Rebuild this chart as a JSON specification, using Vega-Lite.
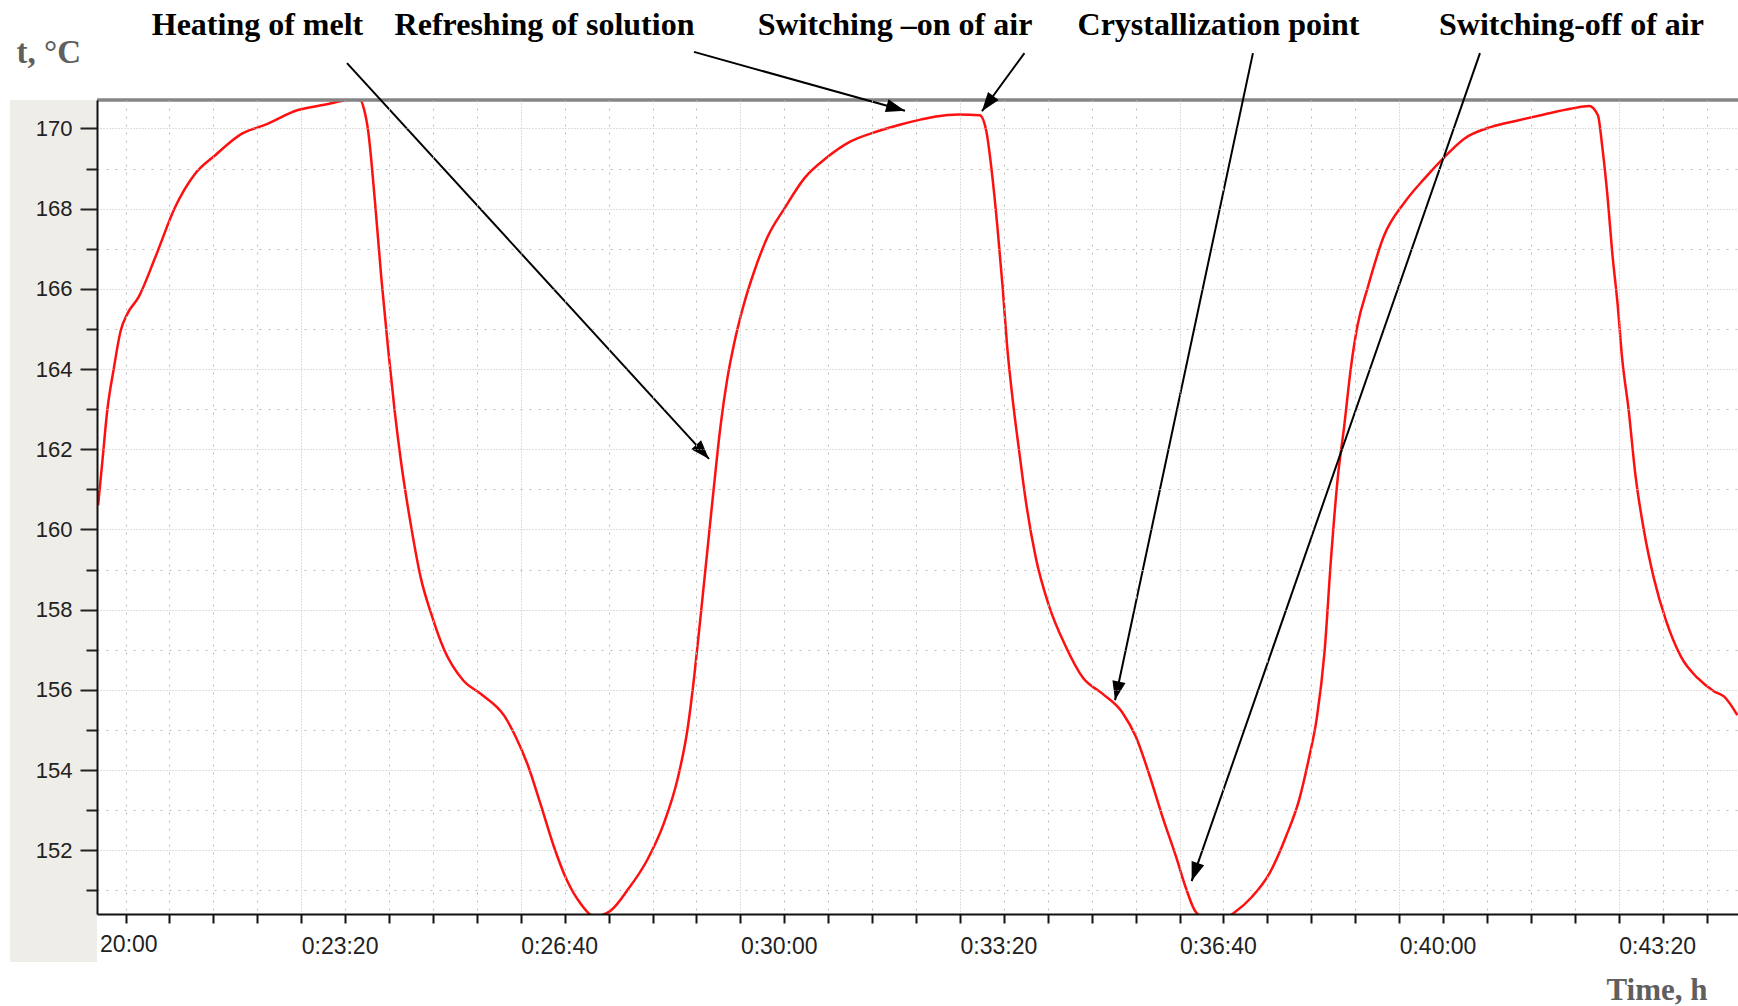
{
  "$schema": "https://vega.github.io/schema/vega-lite/v6.json",
  "width": 1641,
  "height": 814,
  "autosize": {"type": "none"},
  "padding": {"left": 97, "top": 100, "right": 0, "bottom": 92},
  "background": "white",
  "config": {"view": {"stroke": null}},
  "datasets": {
    "curve": [
      {"t": 1215, "v": 160.6}, {"t": 1218.8, "v": 161.67}, {"t": 1223.4, "v": 162.98}, {"t": 1229.4, "v": 164.03},
      {"t": 1235.5, "v": 164.95}, {"t": 1241.5, "v": 165.37}, {"t": 1252, "v": 165.8}, {"t": 1267, "v": 166.78},
      {"t": 1285, "v": 168.03}, {"t": 1303, "v": 168.86}, {"t": 1322, "v": 169.34}, {"t": 1346, "v": 169.87},
      {"t": 1367, "v": 170.09}, {"t": 1397, "v": 170.46}, {"t": 1421, "v": 170.59}, {"t": 1448, "v": 170.72},
      {"t": 1454, "v": 170.7}, {"t": 1457, "v": 170.5}, {"t": 1461, "v": 169.93}, {"t": 1467, "v": 168.23},
      {"t": 1473, "v": 166.26}, {"t": 1479, "v": 164.55}, {"t": 1485, "v": 162.98}, {"t": 1491, "v": 161.67},
      {"t": 1500, "v": 160.09}, {"t": 1509, "v": 158.78}, {"t": 1518, "v": 157.93}, {"t": 1530, "v": 157.01},
      {"t": 1548, "v": 156.22}, {"t": 1564, "v": 155.89}, {"t": 1585, "v": 155.35}, {"t": 1595, "v": 154.85},
      {"t": 1606, "v": 154.15}, {"t": 1618, "v": 153.15}, {"t": 1630, "v": 152.1}, {"t": 1642, "v": 151.25},
      {"t": 1655, "v": 150.65}, {"t": 1667, "v": 150.35}, {"t": 1682, "v": 150.5}, {"t": 1697, "v": 151.0},
      {"t": 1715, "v": 151.75}, {"t": 1730, "v": 152.65}, {"t": 1743, "v": 153.8}, {"t": 1752, "v": 155.05},
      {"t": 1758, "v": 156.35}, {"t": 1764, "v": 157.9}, {"t": 1770, "v": 159.5}, {"t": 1776, "v": 161.1},
      {"t": 1782, "v": 162.6}, {"t": 1788, "v": 163.75}, {"t": 1794, "v": 164.6}, {"t": 1803, "v": 165.6},
      {"t": 1812, "v": 166.39}, {"t": 1825, "v": 167.31}, {"t": 1840, "v": 168.0}, {"t": 1858, "v": 168.75},
      {"t": 1879, "v": 169.28}, {"t": 1900, "v": 169.67}, {"t": 1925, "v": 169.93}, {"t": 1946, "v": 170.1},
      {"t": 1964, "v": 170.22}, {"t": 1978, "v": 170.3}, {"t": 1999, "v": 170.35}, {"t": 2018, "v": 170.33},
      {"t": 2024, "v": 169.93}, {"t": 2028, "v": 169.15}, {"t": 2034, "v": 167.57}, {"t": 2039, "v": 165.99},
      {"t": 2043, "v": 164.55}, {"t": 2048, "v": 163.24}, {"t": 2054, "v": 161.93}, {"t": 2060, "v": 160.7},
      {"t": 2069, "v": 159.3}, {"t": 2081, "v": 158.1}, {"t": 2096, "v": 157.1}, {"t": 2112, "v": 156.3},
      {"t": 2130, "v": 155.9}, {"t": 2148, "v": 155.43}, {"t": 2160, "v": 154.84}, {"t": 2172, "v": 153.92},
      {"t": 2184, "v": 152.87}, {"t": 2197, "v": 151.82}, {"t": 2206, "v": 151.04}, {"t": 2215, "v": 150.45},
      {"t": 2232, "v": 150.2}, {"t": 2250, "v": 150.45}, {"t": 2266, "v": 150.84}, {"t": 2282, "v": 151.43},
      {"t": 2297, "v": 152.35}, {"t": 2309, "v": 153.27}, {"t": 2318, "v": 154.32}, {"t": 2325, "v": 155.3},
      {"t": 2332, "v": 156.94}, {"t": 2338, "v": 159.3}, {"t": 2344, "v": 161.27}, {"t": 2350, "v": 162.59},
      {"t": 2356, "v": 164.03}, {"t": 2362, "v": 165.08}, {"t": 2371, "v": 166.0}, {"t": 2386, "v": 167.31},
      {"t": 2405, "v": 168.16}, {"t": 2423, "v": 168.75}, {"t": 2441, "v": 169.28}, {"t": 2459, "v": 169.74},
      {"t": 2484, "v": 170.04}, {"t": 2508, "v": 170.2}, {"t": 2532, "v": 170.35}, {"t": 2556, "v": 170.49},
      {"t": 2573, "v": 170.56}, {"t": 2581, "v": 170.33}, {"t": 2585, "v": 169.54}, {"t": 2590, "v": 168.23},
      {"t": 2594, "v": 166.92}, {"t": 2599, "v": 165.6}, {"t": 2603, "v": 164.29}, {"t": 2609, "v": 162.98},
      {"t": 2615, "v": 161.4}, {"t": 2623, "v": 159.96}, {"t": 2632, "v": 158.78}, {"t": 2643, "v": 157.73},
      {"t": 2657, "v": 156.81}, {"t": 2672, "v": 156.29}, {"t": 2687, "v": 155.96}, {"t": 2696, "v": 155.83},
      {"t": 2708, "v": 155.37}
    ],
    "arrows": [
      {"name": "heating", "t": 1441.7, "v": 171.63, "t2": 1771.4, "v2": 161.76},
      {"name": "refresh", "t": 1757.7, "v": 171.91, "t2": 1949.9, "v2": 170.44},
      {"name": "on", "t": 2058.7, "v": 171.88, "t2": 2020.0, "v2": 170.43},
      {"name": "cryst", "t": 2266.8, "v": 171.88, "t2": 2141.2, "v2": 155.74},
      {"name": "off", "t": 2473.6, "v": 171.88, "t2": 2211.0, "v2": 151.23}
    ],
    "labels": [
      {"label": "Heating of melt", "t": 1360.2, "v": 172.32},
      {"label": "Refreshing of solution", "t": 1621.6, "v": 172.32},
      {"label": "Switching –on of air", "t": 1940.8, "v": 172.32},
      {"label": "Crystallization  point", "t": 2235.4, "v": 172.32},
      {"label": "Switching-off of air", "t": 2556.9, "v": 172.32}
    ],
    "cut": [{"label": "20:00", "t": 1216.8, "v": 149.45}]
  },
  "layer": [
    {
      "data": {"values": [{}]},
      "mark": {"type": "rect", "color": "#eeede8", "clip": false},
      "encoding": {
        "x": {"datum": 1134.8, "type": "quantitative", "scale": {"domain": [1214, 2708.6], "nice": false, "zero": false}},
        "x2": {"datum": 1214},
        "y": {"datum": 170.71, "type": "quantitative", "scale": {"domain": [150.41, 170.71], "nice": false, "zero": false}},
        "y2": {"datum": 149.21}
      }
    },
    {
      "data": {"name": "curve"},
      "mark": {"type": "line", "color": "#ff1010", "strokeWidth": 2.5, "clip": true, "interpolate": "monotone"},
      "encoding": {
        "x": {
          "field": "t", "type": "quantitative",
          "scale": {"domain": [1214, 2708.6], "nice": false, "zero": false},
          "axis": {
            "title": "Time, h",
            "values": [1240, 1280, 1320, 1360, 1400, 1440, 1480, 1520, 1560, 1600, 1640, 1680, 1720, 1760, 1800, 1840, 1880, 1920, 1960, 2000, 2040, 2080, 2120, 2160, 2200, 2240, 2280, 2320, 2360, 2400, 2440, 2480, 2520, 2560, 2600, 2640, 2680],
            "labelExpr": "datum.value % 200 === 0 ? utcFormat(datum.value * 1000, '%-H:%M:%S') : ''",
            "labelAlign": "left", "labelFont": "Liberation Sans", "labelFontSize": 23, "labelColor": "#222222",
            "labelPadding": 12, "labelOverlap": false, "labelFlush": false, "labelBound": false,
            "tickSize": 9, "tickWidth": 2, "tickColor": "#111111",
            "domainColor": "#111111", "domainWidth": 2,
            "grid": true, "gridColor": "#bcbcbc", "gridWidth": 1,
            "gridDash": {"condition": {"test": "datum.value % 200 === 0", "value": [1, 2]}, "value": [2, 6]},
            "titleFont": "Liberation Serif", "titleFontSize": 31, "titleFontWeight": "bold", "titleColor": "#5f5f5f",
            "titleX": 1509, "titleY": 76, "titleAlign": "left", "titleBaseline": "middle",
            "zindex": 1
          }
        },
        "y": {
          "field": "v", "type": "quantitative",
          "scale": {"domain": [150.41, 170.71], "nice": false, "zero": false},
          "axis": {
            "title": "t,  °C",
            "values": [151, 152, 153, 154, 155, 156, 157, 158, 159, 160, 161, 162, 163, 164, 165, 166, 167, 168, 169, 170],
            "labelExpr": "datum.value % 2 === 0 ? datum.label : ''",
            "labelFont": "Liberation Sans", "labelFontSize": 22, "labelColor": "#222222",
            "labelPadding": 8, "labelOverlap": false,
            "tickSize": {"condition": {"test": "datum.value % 2 === 0", "value": 17}, "value": 11},
            "tickWidth": 2, "tickColor": "#222222",
            "domainColor": "#111111", "domainWidth": 2,
            "grid": true, "gridColor": "#bcbcbc", "gridWidth": 1,
            "gridDash": {"condition": {"test": "datum.value % 2 === 0", "value": [1, 2]}, "value": [2, 7]},
            "titleFont": "Liberation Serif", "titleFontSize": 33, "titleFontWeight": "bold", "titleColor": "#5f5f5f",
            "titleAngle": 0, "titleX": -81, "titleY": -48, "titleAlign": "left", "titleBaseline": "middle",
            "zindex": 1
          }
        }
      }
    },
    {
      "data": {"values": [{}]},
      "mark": {"type": "rule", "color": "#858585", "strokeWidth": 3.5, "clip": false},
      "encoding": {
        "y": {"datum": 170.71, "type": "quantitative", "scale": {"domain": [150.41, 170.71], "nice": false, "zero": false}}
      }
    },
    {
      "data": {"name": "arrows"},
      "mark": {"type": "rule", "color": "black", "strokeWidth": 2, "clip": false},
      "encoding": {
        "x": {"field": "t", "type": "quantitative", "scale": {"domain": [1214, 2708.6], "nice": false, "zero": false}},
        "y": {"field": "v", "type": "quantitative", "scale": {"domain": [150.41, 170.71], "nice": false, "zero": false}},
        "x2": {"field": "t2"},
        "y2": {"field": "v2"}
      }
    },
    {
      "data": {"name": "arrows"},
      "transform": [{"filter": "datum.name === 'heating'"}],
      "mark": {"type": "point", "shape": "M0,0L0.7,2L-0.7,2Z", "filled": true, "color": "black", "opacity": 1, "size": 361, "angle": 137.6, "clip": false},
      "encoding": {
        "x": {"field": "t2", "type": "quantitative", "scale": {"domain": [1214, 2708.6], "nice": false, "zero": false}},
        "y": {"field": "v2", "type": "quantitative", "scale": {"domain": [150.41, 170.71], "nice": false, "zero": false}}
      }
    },
    {
      "data": {"name": "arrows"},
      "transform": [{"filter": "datum.name === 'refresh'"}],
      "mark": {"type": "point", "shape": "M0,0L0.7,2L-0.7,2Z", "filled": true, "color": "black", "opacity": 1, "size": 361, "angle": 105.6, "clip": false},
      "encoding": {
        "x": {"field": "t2", "type": "quantitative", "scale": {"domain": [1214, 2708.6], "nice": false, "zero": false}},
        "y": {"field": "v2", "type": "quantitative", "scale": {"domain": [150.41, 170.71], "nice": false, "zero": false}}
      }
    },
    {
      "data": {"name": "arrows"},
      "transform": [{"filter": "datum.name === 'on'"}],
      "mark": {"type": "point", "shape": "M0,0L0.7,2L-0.7,2Z", "filled": true, "color": "black", "opacity": 1, "size": 361, "angle": 216.7, "clip": false},
      "encoding": {
        "x": {"field": "t2", "type": "quantitative", "scale": {"domain": [1214, 2708.6], "nice": false, "zero": false}},
        "y": {"field": "v2", "type": "quantitative", "scale": {"domain": [150.41, 170.71], "nice": false, "zero": false}}
      }
    },
    {
      "data": {"name": "arrows"},
      "transform": [{"filter": "datum.name === 'cryst'"}],
      "mark": {"type": "point", "shape": "M0,0L0.7,2L-0.7,2Z", "filled": true, "color": "black", "opacity": 1, "size": 361, "angle": 192.0, "clip": false},
      "encoding": {
        "x": {"field": "t2", "type": "quantitative", "scale": {"domain": [1214, 2708.6], "nice": false, "zero": false}},
        "y": {"field": "v2", "type": "quantitative", "scale": {"domain": [150.41, 170.71], "nice": false, "zero": false}}
      }
    },
    {
      "data": {"name": "arrows"},
      "transform": [{"filter": "datum.name === 'off'"}],
      "mark": {"type": "point", "shape": "M0,0L0.7,2L-0.7,2Z", "filled": true, "color": "black", "opacity": 1, "size": 361, "angle": 199.2, "clip": false},
      "encoding": {
        "x": {"field": "t2", "type": "quantitative", "scale": {"domain": [1214, 2708.6], "nice": false, "zero": false}},
        "y": {"field": "v2", "type": "quantitative", "scale": {"domain": [150.41, 170.71], "nice": false, "zero": false}}
      }
    },
    {
      "data": {"name": "labels"},
      "mark": {"type": "text", "font": "Liberation Serif", "fontWeight": "bold", "fontSize": 32, "color": "black", "align": "center", "baseline": "alphabetic", "clip": false},
      "encoding": {
        "x": {"field": "t", "type": "quantitative", "scale": {"domain": [1214, 2708.6], "nice": false, "zero": false}},
        "y": {"field": "v", "type": "quantitative", "scale": {"domain": [150.41, 170.71], "nice": false, "zero": false}},
        "text": {"field": "label"}
      }
    },
    {
      "data": {"name": "cut"},
      "mark": {"type": "text", "font": "Liberation Sans", "fontSize": 23, "color": "#222222", "align": "left", "baseline": "alphabetic", "clip": false},
      "encoding": {
        "x": {"field": "t", "type": "quantitative", "scale": {"domain": [1214, 2708.6], "nice": false, "zero": false}},
        "y": {"field": "v", "type": "quantitative", "scale": {"domain": [150.41, 170.71], "nice": false, "zero": false}},
        "text": {"field": "label"}
      }
    }
  ]
}
